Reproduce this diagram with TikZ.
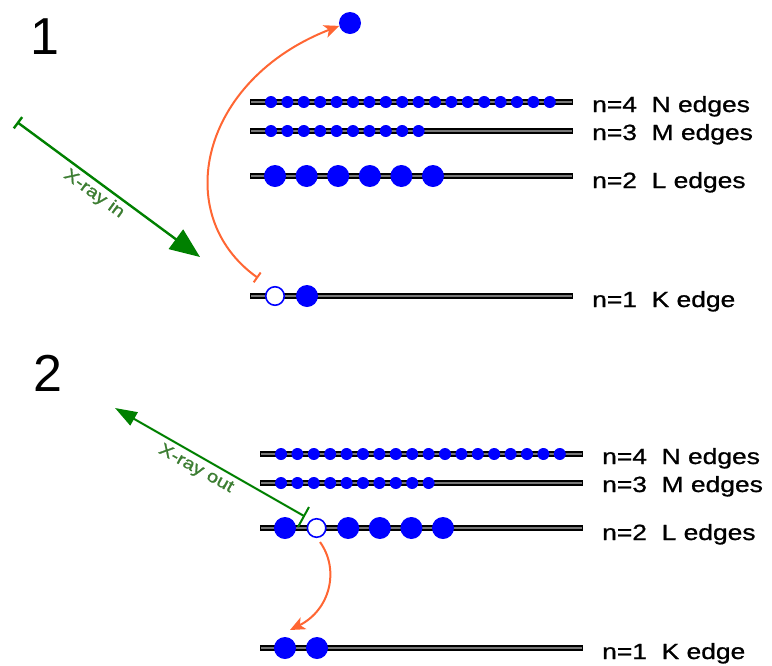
\documentclass[tikz,border=0pt]{standalone}
\usepackage{fontspec}
\setmainfont{Liberation Sans}
\newfontfamily\labfont[FakeStretch=1.2,FakeBold=0.9]{Liberation Sans}
\newfontfamily\xfont[FakeStretch=1.2,FakeBold=1.2]{Liberation Sans}
\usetikzlibrary{arrows.meta}
\definecolor{eblue}{RGB}{0,0,255}
\definecolor{xgreen}{RGB}{0,128,0}
\definecolor{xtext}{RGB}{60,125,50}
\definecolor{eorange}{RGB}{255,102,51}
\definecolor{levelgray}{RGB}{120,120,120}
\newcommand\drawlevels[1]{%
  \foreach \yy/\lv in {102/N,131/M,176/L,296/K}{
    \coordinate (\lv#1l) at (250,\yy);
    \coordinate (\lv#1r) at (573,\yy);
    \draw[levelout] (\lv#1l) -- (\lv#1r);
    \draw[levelin] (\lv#1l) -- (\lv#1r);
  }
  \foreach \k in {0,...,17}{\node[smalldot] (N#1\k) at (271+16.4*\k,102) {};}
  \foreach \k in {0,...,9}{\node[smalldot] (M#1\k) at (271+16.4*\k,131) {};}
  \node[leveltext] (tN#1) at (592,112) {n=4~~N edges};
  \node[leveltext] (tM#1) at (592,140) {n=3~~M edges};
  \node[leveltext] (tL#1) at (592,188) {n=2~~L edges};
  \node[leveltext] (tK#1) at (592,307) {n=1~~K edge};
}
\begin{document}
\begin{tikzpicture}[x=1pt,y=-1pt,
  levelout/.style={line width=5.4pt},
  levelin/.style={line width=2.6pt, levelgray, shorten <=1.4pt, shorten >=1.4pt},
  bigdot/.style={circle, fill=eblue, inner sep=0pt, minimum size=22pt},
  smalldot/.style={circle, fill=eblue, inner sep=0pt, minimum size=12pt},
  hole/.style={circle, draw=eblue, line width=1.6pt, fill=white, inner sep=0pt, minimum size=18.5pt},
  leveltext/.style={anchor=base west, inner sep=0pt, font=\labfont\fontsize{22}{26}\selectfont},
  panelnum/.style={font=\fontsize{52}{60}\selectfont, inner sep=0pt},
  xray/.style={xgreen, line width=2.4pt},
  xraytext/.style={xtext, font=\xfont\fontsize{17}{20}\selectfont, inner sep=0pt},
  jump/.style={eorange, line width=2pt}
]
\useasboundingbox (0,0) rectangle (772,665);

% ---------- panel 1 ----------
\node[panelnum] (p1) at (45,37) {1};
\drawlevels{a}
\foreach \k in {0,...,5}{\node[bigdot] (La\k) at (275+31.6*\k,176) {};}
\node[hole] (holea) at (275,296) {};
\node[bigdot] (Ka1) at (307,296) {};
\node[bigdot] (ejected) at (350,23) {};

\coordinate (jstart) at (258,278);
\draw[jump, {Bar[width=12pt]}-{Stealth[length=15pt,width=13pt,inset=4pt]}]
  (jstart) .. controls (170,215) and (200,80) .. (ejected.195);

\coordinate (xin0) at (17,122);
\coordinate (xin1) at (200,257);
\draw[xray, {Bar[width=14pt]}-{Triangle[length=30pt,width=24pt]}] (xin0) -- (xin1);
\node[xraytext, rotate=-36] (xinlab) at (94,194) {X-ray in};

% ---------- panel 2 ----------
\node[panelnum] (p2) at (47.5,373) {2};
\begin{scope}[shift={(10,352)}]
  \drawlevels{b}
  \foreach \k in {0,2,3,4,5}{\node[bigdot] (Lb\k) at (275+31.6*\k,176) {};}
  \node[hole] (holeb) at (275+31.6,176) {};
  \node[bigdot] (Kb0) at (275,296) {};
  \node[bigdot] (Kb1) at (307,296) {};
\end{scope}

\coordinate (xbarA) at (309,507);
\coordinate (xbarB) at (298,527);
\coordinate (xout0) at (304,516);
\coordinate (xout1) at (115,408);
\draw[xray, line width=2pt] (xbarA) -- (xbarB);
\draw[xray, line width=2pt, -{Triangle[length=22pt,width=15pt]}] (xout0) -- (xout1);
\node[xraytext, rotate=-29] (xoutlab) at (196,469) {X-ray out};

\coordinate (j2start) at (320,542);
\coordinate (j2end) at (290,630);
\draw[jump, -{Stealth[length=15pt,width=13pt,inset=4pt]}]
  (j2start) .. controls (340,570) and (330,610) .. (j2end);
\end{tikzpicture}
\end{document}
